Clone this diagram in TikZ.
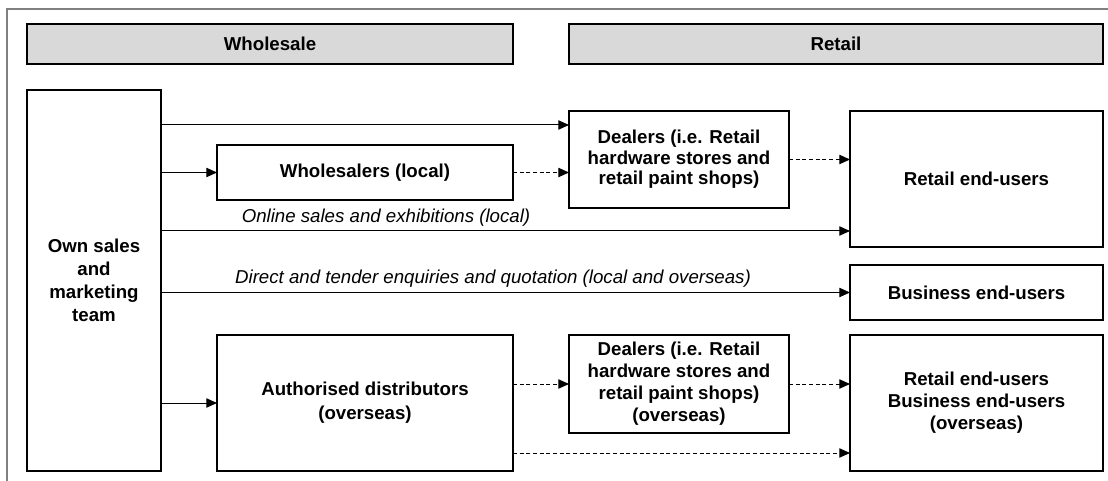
\documentclass[tikz,border=0pt]{standalone}
\usepackage{fontspec}
\setmainfont{Liberation Sans}
\usetikzlibrary{arrows.meta,positioning}
\definecolor{headgrey}{HTML}{D9D9D9}
\definecolor{framegrey}{HTML}{808080}

\begin{document}
\begin{tikzpicture}[x=.75pt,y=-.75pt,font=\fontsize{14}{16.5}\selectfont,
    box/.style={draw,line width=1.35pt,inner sep=0pt,outer sep=0pt,align=center,font=\fontsize{14}{16.5}\selectfont\bfseries},
    header/.style={box,fill=headgrey,minimum height=30pt},
    flow/.style={line width=.75pt,-{Triangle[length=8pt,width=7pt]}},
    dflow/.style={flow,dash pattern=on 3pt off 2pt},
    note/.style={inner sep=0pt,font=\fontsize{14}{16.5}\selectfont\itshape}]
        \useasboundingbox (0,0) rectangle (1108,481);
        \draw[framegrey,line width=1.1pt] (7,481) -- (7,9) -- (1108,9);

        \node[header,minimum width=364.5pt] (wholesale) at (270,44) {Wholesale};
        \node[header,minimum width=400.5pt] (retail) at (836,44) {Retail};

        \node[box,minimum width=100.5pt,minimum height=285.75pt,font=\fontsize{14}{17.25}\selectfont\bfseries] (own) at (94,280.5) {Own sales\\and\\marketing\\team};
        \node[box,minimum width=222pt,minimum height=41.25pt] (whl) at (365,172.5) {Wholesalers (local)};
        \node[box,minimum width=165pt,minimum height=72.75pt,font=\fontsize{14}{15.4}\selectfont\bfseries] (dlr) at (679,159.5) {Dealers (i.e. Retail\\hardware stores and\\retail paint shops)};
        \node[box,minimum width=189.75pt,minimum height=102pt] (reu) at (976.5,179) {Retail end-users};
        \node[box,minimum width=189.75pt,minimum height=41.25pt] (beu) at (976.5,292.5) {Business end-users};
        \node[box,minimum width=222pt,minimum height=102pt,font=\fontsize{14}{18}\selectfont\bfseries] (dist) at (365,403) {Authorised distributors\\(overseas)};
        \node[box,minimum width=165pt,minimum height=73.5pt] (dlro) at (679,384) {Dealers (i.e. Retail\\hardware stores and\\retail paint shops)\\(overseas)};
        \node[box,minimum width=189.75pt,minimum height=102pt] (reuo) at (976.5,403) {Retail end-users\\Business end-users\\(overseas)};

        \coordinate (lvltop) at (0,125);
        \coordinate (lvlonline) at (0,231);
        \coordinate (lvlbottom) at (0,453);

        \draw[flow] (own.east |- lvltop) -- (dlr.west |- lvltop);
        \draw[flow] (own.east |- whl.west) -- (whl.west);
        \draw[dflow] (whl.east) -- (dlr.west |- whl.east);
        \draw[dflow] (dlr.east) -- (reu.west |- dlr.east);

        \draw[flow] (own.east |- lvlonline) -- (reu.west |- lvlonline);
        \node[note] (onlinetxt) at (386,218) {Online sales and exhibitions (local)};

        \draw[flow] (own.east |- beu.west) -- (beu.west);
        \node[note] (directtxt) at (493,279) {Direct and tender enquiries and quotation (local and overseas)};

        \draw[flow] (own.east |- dist.west) -- (dist.west);
        \draw[dflow] (dist.east |- dlro.west) -- (dlro.west);
        \draw[dflow] (dlro.east) -- (reuo.west |- dlro.east);
        \draw[dflow] (dist.east |- lvlbottom) -- (reuo.west |- lvlbottom);
      \end{tikzpicture}
\end{document}
